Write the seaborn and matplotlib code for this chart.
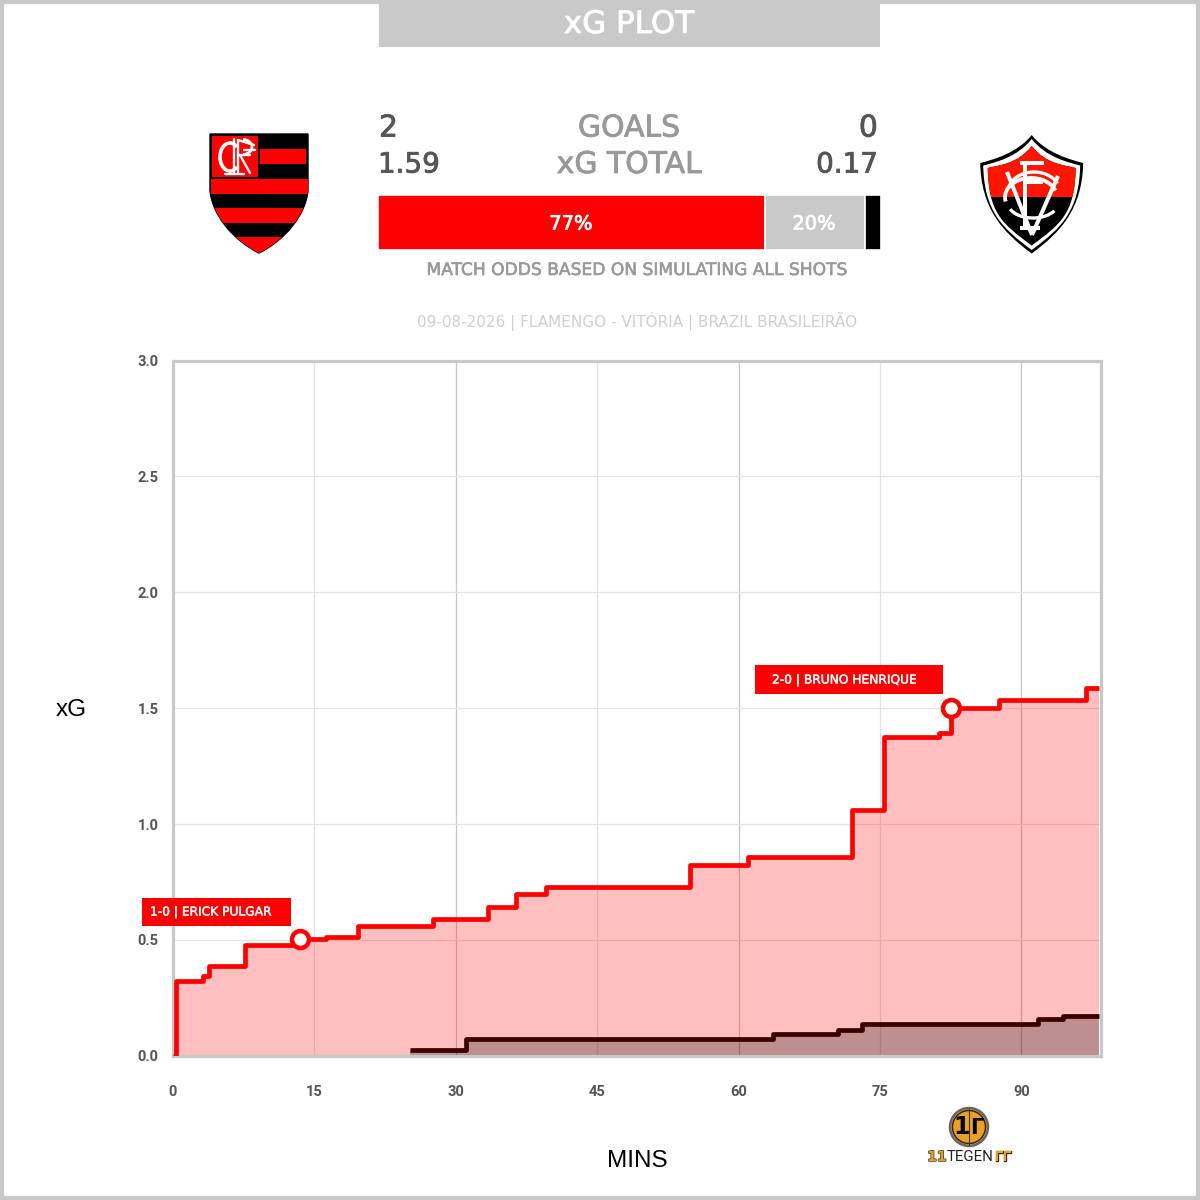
import numpy as np
import pandas as pd
import matplotlib
matplotlib.use('Agg')
import matplotlib.pyplot as plt
import matplotlib.patheffects as pe
import seaborn as sns
from matplotlib.path import Path
from matplotlib.patches import PathPatch, Rectangle, Circle, Arc

# dados do jogo
home_mins = [0.0, 0.3, 3.2, 3.8, 7.6, 13.4, 16.2, 19.6, 27.6, 33.4, 36.4, 39.6, 54.9, 61.0, 72.0, 75.4, 81.3, 82.5, 87.6, 96.9, 98.2]
home_xg = [0.0, 0.323, 0.345, 0.386, 0.477, 0.503, 0.514, 0.559, 0.592, 0.64, 0.70, 0.73, 0.822, 0.857, 1.06, 1.375, 1.393, 1.5, 1.534, 1.589, 1.589]
away_mins = [25.1, 31.1, 63.7, 70.6, 73.1, 91.8, 94.4, 98.2]
away_xg = [0.024, 0.074, 0.096, 0.11, 0.137, 0.157, 0.172, 0.172]
goal_mins = [13.5, 82.5]
goal_xg = [0.503, 1.5]
goal_labels = ['1-0 | ERICK PULGAR', '2-0 | BRUNO HENRIQUE']
odds = [77, 20, 3]
odds_colors = ['#ff0000', '#c9c9c9', '#000000']
x_ticks = [0, 15, 30, 45, 60, 75, 90]
y_ticks = [0.0, 0.5, 1.0, 1.5, 2.0, 2.5, 3.0]

RED = '#ff0000'
GREY = '#c8c8c8'

sns.set_theme(style='white')
plt.rcParams['font.family'] = ['DejaVu Sans']

fig = plt.figure(figsize=(12, 12), dpi=100, facecolor='white')


def box(l, t, r, b):
    return [l / 1200, 1 - b / 1200, (r - l) / 1200, (b - t) / 1200]


# grafico principal
ax = fig.add_axes(box(173, 360.5, 1100.5, 1055.8))
ax.set_xlim(0, 98.4)
ax.set_ylim(0, 3)
ax.set_axisbelow(True)

for t in x_ticks[1:]:
    ax.axvline(t, color='#c6c6c6' if t % 30 == 0 else '#e2e2e2', lw=0.9, zorder=0)
for t in y_ticks[1:-1]:
    ax.axhline(t, color='#e4e4e4', lw=0.9, zorder=0)

ax.fill_between(home_mins[1:], home_xg[1:], step='post', color=RED, alpha=0.25, lw=0, zorder=1)
ax.fill_between(away_mins, away_xg, step='post', color='black', alpha=0.25, lw=0, zorder=2)

home_df = pd.DataFrame({'min': home_mins, 'xg': home_xg})
away_df = pd.DataFrame({'min': away_mins, 'xg': away_xg})
sns.lineplot(data=home_df, x='min', y='xg', ax=ax, color=RED, lw=3.4, drawstyle='steps-post',
             estimator=None, sort=False, zorder=3, solid_joinstyle='round', solid_capstyle='butt')
sns.lineplot(data=away_df, x='min', y='xg', ax=ax, color='#3a0000', lw=3.4, drawstyle='steps-post',
             estimator=None, sort=False, zorder=4, solid_joinstyle='round', solid_capstyle='butt')
sns.scatterplot(x=goal_mins, y=goal_xg, ax=ax, s=150, color='white', edgecolor=RED, linewidth=3.2,
                zorder=5, clip_on=False)

ax.set_xticks(x_ticks)
ax.set_yticks(y_ticks)
ax.set_yticklabels([f'{t:.1f}' for t in y_ticks])
ax.tick_params(axis='both', length=0, labelcolor='#555555')
ax.tick_params(axis='x', pad=21)
ax.tick_params(axis='y', pad=10.5)
for lab in ax.get_xticklabels() + ax.get_yticklabels():
    lab.set_fontfamily('Roboto')
    lab.set_fontweight('bold')
    lab.set_fontsize(10.5)
ax.set_xlabel('')
ax.set_ylabel('')
for s in ax.spines.values():
    s.set_visible(True)
    s.set_color(GREY)
    s.set_linewidth(2.3)

# barra de probabilidades
bar = fig.add_axes(box(378, 194.5, 880.5, 249.5))
left = 0
for val, col in zip(odds, odds_colors):
    bar.barh(0, val, left=left, height=1, color=col, edgecolor='white', linewidth=1.2)
    left += val
bar.set_xlim(0, 100)
bar.set_ylim(-0.5, 0.5)
bar.axis('off')

# camada em pixels para textos e escudos
ov = fig.add_axes([0, 0, 1, 1], zorder=10)
ov.set_xlim(0, 1200)
ov.set_ylim(1200, 0)
ov.axis('off')
ov.patch.set_alpha(0)


def heavy(color, w=0.6):
    return [pe.withStroke(linewidth=w, foreground=color)]


ov.add_patch(Rectangle((2, 2), 1196, 1196, fill=False, ec=GREY, lw=3))
ov.add_patch(Rectangle((379, 3), 501, 44, fc='#c9c9c9', ec='none'))
ov.text(629, 24.5, 'xG PLOT', color='white', fontsize=22.3, ha='center', va='center', path_effects=heavy('white'))

ov.text(379, 128, '2', color='#555555', fontsize=21.5, ha='left', va='center', path_effects=heavy('#555555'))
ov.text(378, 164.5, '1.59', color='#555555', fontsize=20, ha='left', va='center', path_effects=heavy('#555555'))
ov.text(629, 128, 'GOALS', color='#999999', fontsize=21.5, ha='center', va='center', path_effects=heavy('#999999'))
ov.text(629, 164.5, 'xG TOTAL', color='#999999', fontsize=21.5, ha='center', va='center', path_effects=heavy('#999999'))
ov.text(878, 128, '0', color='#555555', fontsize=21.5, ha='right', va='center', path_effects=heavy('#555555'))
ov.text(878, 164.5, '0.17', color='#555555', fontsize=20, ha='right', va='center', path_effects=heavy('#555555'))
ov.text(571, 224, '77%', color='white', fontsize=14, ha='center', va='center', path_effects=heavy('white'))
ov.text(814, 224, '20%', color='white', fontsize=14, ha='center', va='center', path_effects=heavy('white'))
ov.text(637, 270, 'MATCH ODDS BASED ON SIMULATING ALL SHOTS', color='#999999', fontsize=12.3, ha='center', va='center',
        path_effects=heavy('#999999', 0.4))
ov.text(637, 321, '09-08-2026 | FLAMENGO - VITÓRIA | BRAZIL BRASILEIRÃO', color='#cfcfcf', fontsize=11, ha='center', va='center')

ov.add_patch(Rectangle((142, 898), 149, 28, fc=RED, ec='none'))
ov.text(150, 912, goal_labels[0], color='white', fontsize=8.8, ha='left', va='center', path_effects=heavy('white', 0.3))
ov.add_patch(Rectangle((755, 665), 188, 29, fc=RED, ec='none'))
ov.text(772, 680, goal_labels[1], color='white', fontsize=8.8, ha='left', va='center', path_effects=heavy('white', 0.3))

ov.text(71, 710, 'xG', color='black', fontsize=17.5, family='Liberation Sans', ha='center', va='center')
ov.text(637, 1161, 'MINS', color='black', fontsize=17.5, family='Liberation Sans', ha='center', va='center')

# escudo Flamengo
verts = [(210, 134), (308, 134), (308, 190), (306, 215), (285, 240), (259, 253),
         (233, 240), (212, 215), (210, 190), (210, 134)]
codes = [Path.MOVETO, Path.LINETO, Path.LINETO, Path.CURVE4, Path.CURVE4, Path.CURVE4,
         Path.CURVE4, Path.CURVE4, Path.CURVE4, Path.CLOSEPOLY]
fla = PathPatch(Path(verts, codes), fc='black', ec='black', lw=1)
ov.add_patch(fla)
for top, h, l, w in [(149, 15, 260, 46), (178.5, 15, 211, 97), (207.5, 15, 211, 97), (237, 17, 211, 97)]:
    r = Rectangle((l, top), w, h, fc=RED, ec='none')
    ov.add_patch(r)
    r.set_clip_path(fla.get_path(), ov.transData)
ov.add_patch(Rectangle((212, 136), 46, 41, fc=RED, ec='none'))
ov.add_patch(Arc((230, 157), 20, 28, theta1=55, theta2=305, color='white', lw=2.6))
for p in [((234, 139), (234, 172)), ((238, 140), (238, 172)), ((238, 140), (254, 145)),
          ((238, 155), (250, 155)), ((240, 155), (250, 173)), ((225, 174), (244, 174)),
          ((244, 150), (255, 150))]:
    ov.plot(*zip(*p), color='white', lw=1.7, solid_capstyle='round')
ov.add_patch(Arc((243, 147), 18, 15, theta1=270, theta2=90, color='white', lw=2))


# escudo Vitória
def vit_path(tip_t, sh_x, sh_y, tip_b, cx=1031.7):
    v = [(cx, tip_t), (cx - 14, tip_t + 18), (cx - sh_x + 12, sh_y - 3), (cx - sh_x, sh_y),
         (cx - sh_x + 1, sh_y + 45), (cx - 30, tip_b - 22), (cx, tip_b),
         (cx + 30, tip_b - 22), (cx + sh_x - 1, sh_y + 45), (cx + sh_x, sh_y),
         (cx + sh_x - 12, sh_y - 3), (cx + 14, tip_t + 18), (cx, tip_t), (cx, tip_t)]
    c = [Path.MOVETO] + [Path.CURVE4] * 12 + [Path.CLOSEPOLY]
    return Path(v, c)


ov.add_patch(PathPatch(vit_path(135, 51.5, 163, 253.5), fc='black', ec='none'))
ov.add_patch(PathPatch(vit_path(139, 48.5, 165.5, 250), fc='white', ec='none'))
inner = PathPatch(vit_path(146, 44, 168, 245.5), fc='black', ec='none')
ov.add_patch(inner)
red_top = Rectangle((980, 140), 104, 57, fc='#ff1500', ec='none')
ov.add_patch(red_top)
red_top.set_clip_path(inner.get_path(), ov.transData)
ov.add_patch(Arc((1031, 197), 52, 38, theta1=170, theta2=345, color='white', lw=2.8))
ov.add_patch(Arc((1034, 192), 52, 40, theta1=190, theta2=340, color='white', lw=2.4))
ov.add_patch(Arc((1033, 203), 50, 30, theta1=20, theta2=165, color='white', lw=2.4))
for p in [((1007, 172), (1032, 235)), ((1032, 235), (1058, 176)), ((1025, 163), (1025, 228)),
          ((1020, 163), (1044, 163)), ((1025, 182), (1043, 182)), ((1020, 228), (1040, 228))]:
    ov.plot(*zip(*p), color='white', lw=2.9, solid_capstyle='butt')

# logo 11 tegen
ov.add_patch(Circle((969, 1127), 19, fc='#e9a11f', ec='#666666', lw=1.8))
ov.add_patch(Circle((969, 1127), 16.5, fill=False, ec='#222222', lw=1))
ov.plot([969, 969], [1109, 1145], color='#333333', lw=0.8)
ov.text(961.5, 1127.5, '1', color='black', fontsize=17, fontweight='bold', ha='center', va='center')
ov.text(976.5, 1127.5, 'Γ', color='black', fontsize=15, fontweight='bold', ha='center', va='center')
ov.text(970, 1157, 'TEGEN', color='#222222', fontsize=10.8, family='Roboto', ha='center', va='center')
ov.text(937, 1157, '11', color='#e9a11f', fontsize=10, fontweight='bold', ha='center', va='center',
        path_effects=[pe.withStroke(linewidth=1, foreground='#333333')])
ov.text(1003, 1157, 'ΓΓ', color='#e9a11f', fontsize=9, fontweight='bold', ha='center', va='center',
        path_effects=[pe.withStroke(linewidth=1, foreground='#333333')])

fig.savefig('out.png', dpi=100)
